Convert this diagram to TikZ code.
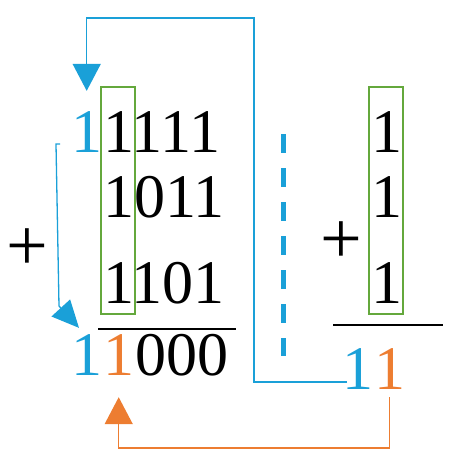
\documentclass[tikz,border=0pt]{standalone}
\usepackage{fontspec}
\setmainfont{Liberation Serif}
\usetikzlibrary{arrows.meta}
\definecolor{cblue}{RGB}{26,160,216}
\definecolor{corange}{RGB}{237,125,49}
\definecolor{cgreen}{RGB}{100,168,60}
\begin{document}
\begin{tikzpicture}[x=1pt,y=-1pt,
	digit/.style={anchor=base west,inner sep=0pt,font=\fontsize{62}{62}\selectfont},
	plus/.style={inner sep=0pt,font=\fontsize{74}{74}\selectfont},
	colbox/.style={draw=cgreen,line width=1.6pt},
	sumbar/.style={line width=2pt},
	carry/.style={line width=1.5pt,-{Triangle[width=28pt,length=27pt]}}]
	\useasboundingbox (0,0) rectangle (458,466);
	\node[digit,text=cblue] (t0) at (71,152) {1};
	\node[digit] (t1) at (103,152) {1111};
	\node[digit] (t2) at (103,217) {1011};
	\node[digit] (t3) at (103,303) {1101};
	\node[digit,text=cblue] (rb) at (71,375) {1};
	\node[digit,text=corange] (ro) at (103,375) {1};
	\node[digit] (rz) at (135,375) {000};
	\node[digit] (s1) at (371,152) {1};
	\node[digit] (s2) at (371,217) {1};
	\node[digit] (s3) at (371,303) {1};
	\node[digit,text=cblue] (sb) at (342,389) {1};
	\node[digit,text=corange] (so) at (374,389) {1};
	\node[plus] (pl) at (27,250) {+};
	\node[plus] (pr) at (341,243) {+};
	\draw[colbox] (101,87) rectangle (135,314);
	\draw[colbox] (369,87) rectangle (403,314);
	\draw[sumbar] (98,329) -- (236,329);
	\draw[sumbar] (333,325) -- (443,325);
	\draw[cblue,line width=5pt,dash pattern=on 19pt off 15pt] (283,134) -- (283,356);
	\draw[carry,cblue] ([shift={(5,-7)}]sb.base west) -| (254,18) -| ([shift={(0,-20)}]t0.north);
	\draw[carry,corange] ([shift={(0,8)}]so.south) -- ++(0,51) -| ([shift={(0,22)}]ro.south);
	\draw[cblue,line width=1.3pt,-{Triangle[width=25pt,length=27pt]}] ([shift={(-11,-8)}]t0.base west) -- ++(-4,0) -- (59,306) -- ([shift={(8,-6)}]rb.north west);
\end{tikzpicture}
\end{document}
